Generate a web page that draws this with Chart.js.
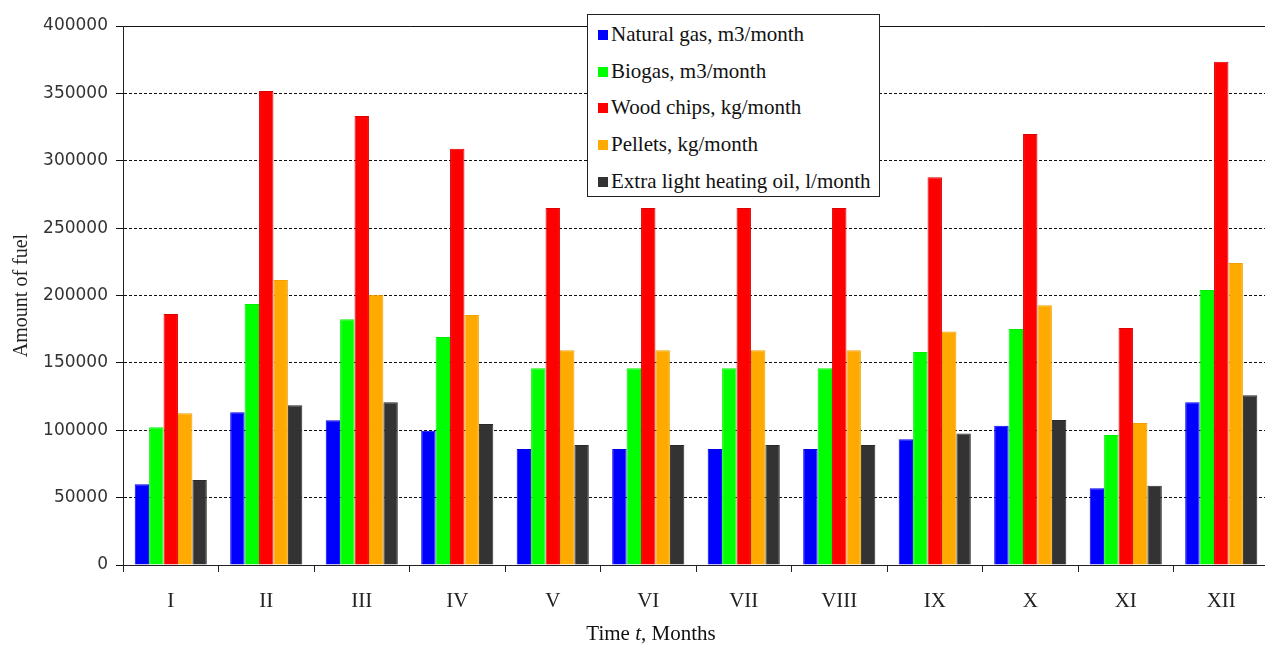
<!DOCTYPE html>
<html lang="en">
<head>
  <meta charset="UTF-8">
  <title>Amount of fuel by month</title>
  <script src="https://cdn.jsdelivr.net/npm/chart.js"></script>
  <style>
    html, body {
      margin: 0;
      padding: 0;
      background: #ffffff;
      overflow: hidden;
    }

    .wrap {
      position: relative;
      width: 1272px;
      height: 646px;
    }

    .legend {
      position: absolute;
      left: 587px;
      top: 14px;
      width: 291px;
      height: 181px;
      border: 1px solid #222;
      background: #fff;
      font-family: 'Liberation Serif', serif;
      font-size: 21px;
      color: #111;
    }

    .legend-item {
      position: absolute;
      left: 10px;
      height: 24px;
      line-height: 24px;
      white-space: nowrap;
    }

    .legend-item span.box {
      display: inline-block;
      width: 10px;
      height: 10px;
      margin-right: 3px;
      vertical-align: 1px;
    }

    .x-title {
      position: absolute;
      left: 0;
      width: 1302px;
      top: 621px;
      text-align: center;
      font-family: 'Liberation Serif', serif;
      font-size: 21px;
      color: #111;
    }
  </style>
</head>
<body>
  <div class="wrap">
    <canvas id="chart"></canvas>
    <div class="legend" id="legend"></div>
    <div class="x-title">Time <i>t</i>, Months</div>
  </div>

  <script>
    // months I..XII
    const months = ['I', 'II', 'III', 'IV', 'V', 'VI', 'VII', 'VIII', 'IX', 'X', 'XI', 'XII'];

    // values
    const naturalGas = [60000, 113300, 107400, 99700, 86000, 86000, 86000, 86000, 93300, 103400, 56900, 120700];
    const biogas     = [102200, 193700, 182300, 169200, 146000, 146000, 146000, 146000, 158100, 175100, 96500, 204100];
    const woodChips  = [186300, 351700, 333200, 308900, 265000, 265000, 265000, 265000, 287700, 319800, 175900, 373500];
    const pellets    = [112600, 211500, 200600, 185500, 159300, 159300, 159300, 159300, 173200, 192700, 105400, 224100];
    const heatingOil = [63100, 118500, 120700, 104600, 89000, 89000, 89000, 89000, 97500, 107600, 58900, 125900];

    const seriesNames = [
      'Natural gas, m3/month',
      'Biogas, m3/month',
      'Wood chips, kg/month',
      'Pellets, kg/month',
      'Extra light heating oil, l/month'
    ];
    const seriesColors = ['#0000ff', '#00ff00', '#ff0000', '#ffaa00', '#333333'];
    const seriesEdges  = ['#0000ee', '#00ee00', '#dd0000', '#f0a000', '#2a2a2a'];
    const seriesData = [naturalGas, biogas, woodChips, pellets, heatingOil];

    const yMax = 400000;
    const yStep = 50000;

    const datasets = seriesNames.map((name, i) => ({
      label: name,
      data: seriesData[i],
      backgroundColor: seriesColors[i],
      borderColor: seriesEdges[i],
      borderWidth: 1,
      barPercentage: 1.0,
      categoryPercentage: 0.755
    }));

    new Chart(document.getElementById('chart'), {
      type: 'bar',
      data: { labels: months, datasets: datasets },
      options: {
        responsive: true,
        maintainAspectRatio: false,
        animation: false,
        layout: { padding: { left: 8, top: 26, right: 3, bottom: 0 } },
        plugins: {
          legend: { display: false },
          tooltip: { enabled: false }
        },
        scales: {
          x: {
            grid: {
              offset: true,
              drawOnChartArea: false,
              drawTicks: true,
              tickLength: 7,
              color: '#222'
            },
            border: { display: true, color: '#222', width: 1 },
            ticks: {
              padding: 17,
              color: '#222',
              font: { family: 'Liberation Serif', size: 21 }
            },
            afterFit: scale => { scale.height = 81; }
          },
          y: {
            min: 0,
            max: yMax,
            ticks: {
              stepSize: yStep,
              padding: 8,
              color: '#333',
              font: { family: 'DejaVu Sans', size: 17 },
              callback: v => String(v)
            },
            grid: {
              color: '#111',
              tickLength: 7,
              lineWidth: 1
            },
            border: {
              display: true,
              color: '#222',
              width: 1,
              dash: ctx => (ctx.tick && (ctx.tick.value === yMax || ctx.tick.value === 0)) ? [] : [3, 2]
            },
            title: {
              display: true,
              text: 'Amount of fuel',
              color: '#222',
              padding: { top: 2, bottom: 2 },
              font: { family: 'Liberation Serif', size: 20 }
            },
            afterFit: scale => { scale.width = 115; }
          }
        }
      }
    });

    // legend box drawn over the plot, as in the original
    const legend = document.getElementById('legend');
    seriesNames.forEach((name, i) => {
      const item = document.createElement('div');
      item.className = 'legend-item';
      item.style.top = (7 + i * 36.7) + 'px';
      item.innerHTML = '<span class="box" style="background:' + seriesColors[i] + '"></span>' + name;
      legend.appendChild(item);
    });
  </script>
</body>
</html>
